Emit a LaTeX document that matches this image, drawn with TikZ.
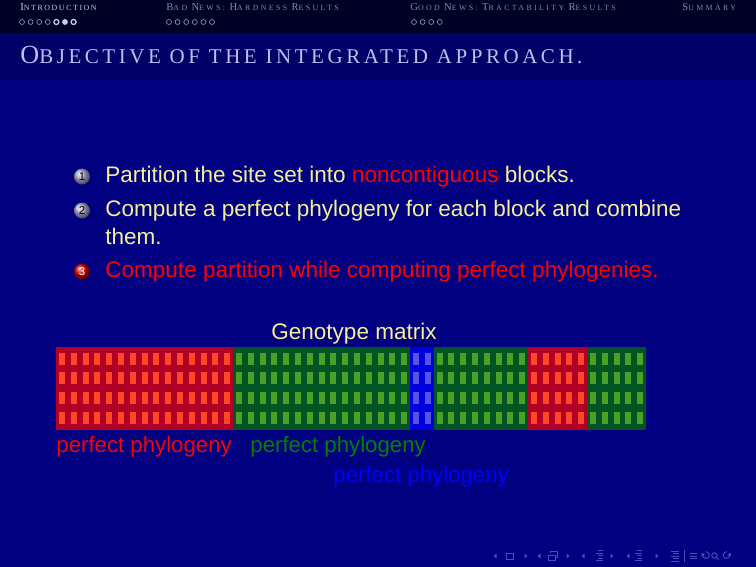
\documentclass[tikz,border=0pt]{standalone}
\usepackage{fontspec}
\setmainfont{Liberation Sans}
\newfontfamily\headfont[LetterSpace=30]{Liberation Serif}
\newfontfamily\headcurfont[LetterSpace=20]{Liberation Serif}
\newfontfamily\titlefont[LetterSpace=17]{Liberation Serif}
\usetikzlibrary{positioning}

\definecolor{headbg}{RGB}{0,0,38}
\definecolor{titlebg}{RGB}{0,0,102}
\definecolor{bodybg}{RGB}{0,0,128}
\definecolor{headtext}{RGB}{205,205,240}
\definecolor{headdim}{RGB}{135,135,170}
\definecolor{titletext}{RGB}{190,190,240}
\definecolor{bodytext}{RGB}{245,240,150}
\definecolor{navcol}{RGB}{75,75,190}
\definecolor{ballgray}{RGB}{175,175,215}
\definecolor{bgred}{RGB}{176,0,38}
\definecolor{cellred}{RGB}{255,70,40}
\definecolor{bggreen}{RGB}{0,85,35}
\definecolor{cellgreen}{RGB}{75,160,40}
\definecolor{bgblue}{RGB}{0,0,220}
\definecolor{cellblue}{RGB}{85,85,225}
\definecolor{ppgreen}{RGB}{0,130,0}

\newcommand{\hdsec}[2]{{\fontsize{5.1}{6}\selectfont#1}{\fontsize{3.8}{6}\selectfont#2}}
\newcommand{\ttlsc}[2]{{\fontsize{12.6}{14}\selectfont#1}{\fontsize{10.1}{14}\selectfont#2}}

\tikzset{
  hdlabel/.style={anchor=base west, inner sep=0pt, font=\headfont},
  body/.style={anchor=base west, inner sep=0pt, font=\fontsize{10.85}{13.6}\selectfont, text=bodytext},
  itemball/.style={circle, inner sep=0pt, minimum size=2.7mm, font=\fontsize{5.5}{6}\selectfont},
  pplabel/.style={anchor=base west, inner sep=0pt, font=\fontsize{10.7}{13.6}\selectfont},
  navsym/.style={navcol, line width=0.45pt},
}

\begin{document}
\begin{tikzpicture}[x=0.169312mm, y=-0.169312mm]
    % slide background
    \fill[bodybg] (0,0) rectangle (756,567);
    \fill[headbg] (0,0) rectangle (756,33);
    \fill[titlebg] (0,33) rectangle (756,80);

    % navigation header
    \node[hdlabel, text=headtext, font=\headcurfont] (secintro) at (20,11) {\hdsec{I}{NTRODUCTION}};
    \node[hdlabel, text=headdim] (secbad) at (166,11) {\hdsec{B}{AD }\hdsec{N}{EWS: }\hdsec{H}{ARDNESS }\hdsec{R}{ESULTS}};
    \node[hdlabel, text=headdim] (secgood) at (410,11) {\hdsec{G}{OOD }\hdsec{N}{EWS: }\hdsec{T}{RACTABILITY }\hdsec{R}{ESULTS}};
    \node[hdlabel, text=headdim] (secsum) at (682,11) {\hdsec{S}{UMMARY}};

    \foreach \i in {0,...,3}
      \draw[headdim, line width=0.35pt] (22+\i*8.6,22) circle (2.5);
    \draw[headtext, line width=0.6pt] (22+4*8.6,22) circle (2.5);
    \fill[headtext] (22+5*8.6,22) circle (2.9);
    \draw[headtext, line width=0.6pt] (22+6*8.6,22) circle (2.5);
    \foreach \i in {0,...,5}
      \draw[headdim, line width=0.35pt] (169+\i*8.6,22) circle (2.5);
    \foreach \i in {0,...,3}
      \draw[headdim, line width=0.35pt] (414+\i*8.6,22) circle (2.5);

    % frame title
    \node[anchor=base west, inner sep=0pt, text=titletext, font=\titlefont] (ftitle) at (20,64)
      {\ttlsc{O}{BJECTIVE OF THE INTEGRATED APPROACH.}};

    % enumerated items
    \node[itemball, ball color=ballgray, text=black] (b1) at (82,176.5) {1};
    \node[body] (it1) at (105,183) {Partition the site set into \textcolor{red}{noncontiguous} blocks.};
    \node[itemball, ball color=ballgray, text=black] (b2) at (82,210.5) {2};
    \node[body] (it2) at (105,217) {Compute a perfect phylogeny for each block and combine};
    \node[body] (it2b) at (105,245) {them.};
    \node[itemball, ball color=red!85!black, text=white] (b3) at (82,271.5) {3};
    \node[body, text=red] (it3) at (105,278) {Compute partition while computing perfect phylogenies.};

    % genotype matrix
    \node[body, anchor=base] (gtitle) at (354,340) {Genotype matrix};
    \foreach \s/\n/\c in {0/15/red, 15/15/green, 30/2/blue, 32/8/green, 40/5/red, 45/5/green} {
      \fill[bg\c] ({56+\s*11.8},347) rectangle ({56+(\s+\n)*11.8},430);
      \foreach \i in {1,...,\n}
        \foreach \r in {0,...,3}
          \fill[cell\c] ({59+(\s+\i-1)*11.8},{352.7+\r*19.67}) rectangle +(6,12);
    }

    \node[pplabel, text=red] (pp1) at (56,452) {perfect phylogeny};
    \node[pplabel, text=ppgreen] (pp2) at (250,452) {perfect phylogeny};
    \node[pplabel, text=blue] (pp3) at (333,482) {perfect phylogeny};

    % navigation symbols
    \foreach \x in {495,539,583,628}
      \fill[navsym] (\x-1.5,556) -- (\x+1.5,553.5) -- (\x+1.5,558.5) -- cycle;
    \foreach \x in {526,568,612,657}
      \fill[navsym] (\x+1.5,556) -- (\x-1.5,553.5) -- (\x-1.5,558.5) -- cycle;
    \draw[navsym] (506.5,553) rectangle (513.5,559);
    \draw[navsym] (548.5,555) rectangle (555,560) (550.5,553) -- (550.5,551.5) -- (557.5,551.5) -- (557.5,557) -- (555,557);
    \foreach \x in {599,638} {
      \draw[navsym] (\x-1.5,550.5) -- (\x+3.5,550.5) (\x-3.5,553) -- (\x+3.5,553) (\x-1.5,555.5) -- (\x+3.5,555.5)
        (\x-1.5,558) -- (\x+3.5,558) (\x-3.5,560.5) -- (\x+3.5,560.5);
    }
    \draw[navsym] (671,551) -- (679,551) (673,553.5) -- (679,553.5) (671,556) -- (679,556) (673,558.5) -- (679,558.5) (671,561) -- (679,561);
    \draw[navsym] (684,550) -- (684,562);
    \draw[navsym] (689.5,553.5) -- (696.5,553.5) (689.5,556) -- (696.5,556) (689.5,558.5) -- (696.5,558.5);
    \draw[navsym] (703,554) arc (200:-100:3.3);
    \fill[navsym] (701.5,552.5) -- (705,554.5) -- (701.8,556.5) -- cycle;
    \draw[navsym] (714.5,555.5) circle (2.8) (716.5,557.5) -- (719,560);
    \draw[navsym] (729.5,554) arc (-20:280:3.3);
    \fill[navsym] (731,552.5) -- (727.5,554.5) -- (730.7,556.5) -- cycle;
  \end{tikzpicture}
\end{document}
